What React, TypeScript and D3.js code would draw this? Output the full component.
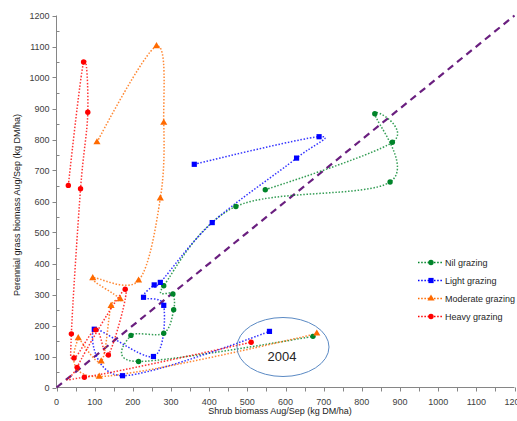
import React, { useEffect, useRef } from 'react'
import * as d3 from 'd3'

// shrub biomass (x) and perennial grass biomass (y), in year order, 2004 is the last point
const nilShrub = [547, 880, 834, 874, 470, 281, 305, 307, 281, 195, 215, 672]
const nilGrass = [638, 791, 883, 663, 584, 328, 302, 251, 175, 168, 84, 165]

const lightShrub = [361, 688, 629, 408, 272, 256, 228, 281, 254, 99, 173, 558]
const lightGrass = [720, 809, 740, 532, 339, 331, 291, 265, 100, 188, 38, 181]

const moderateShrub = [106, 262, 281, 272, 215, 95, 167, 143, 117, 57, 112, 682]
const moderateGrass = [791, 1101, 854, 610, 345, 353, 285, 263, 84, 159, 35, 174]

const heavyShrub = [31, 71, 82, 63, 39, 46, 103, 136, 180, 54, 73, 510]
const heavyGrass = [652, 1050, 888, 641, 173, 95, 186, 105, 317, 65, 33, 146]

const seriesNames = ['Nil grazing', 'Light grazing', 'Moderate grazing', 'Heavy grazing']
const xTicks = [0, 100, 200, 300, 400, 500, 600, 700, 800, 900, 1000, 1100, 1200]
const yTicks = [0, 100, 200, 300, 400, 500, 600, 700, 800, 900, 1000, 1100, 1200]

const W = 517, H = 421
const FONT = 'Liberation Sans, Arial, sans-serif'

function App() {
    const ref = useRef<SVGSVGElement>(null)

    useEffect(() => {
        const svg = d3.select(ref.current)
        svg.selectAll('*').remove()

        const x = d3.scaleLinear().domain([0, 1200]).range([56.5, 514.5])
        const y = d3.scaleLinear().domain([0, 1200]).range([387.5, 15.5])

        const series = [
            { name: seriesNames[0], xs: nilShrub, ys: nilGrass, color: '#00842a', shape: 'circle' },
            { name: seriesNames[1], xs: lightShrub, ys: lightGrass, color: '#0000ff', shape: 'square' },
            { name: seriesNames[2], xs: moderateShrub, ys: moderateGrass, color: '#ff6a00', shape: 'triangle' },
            { name: seriesNames[3], xs: heavyShrub, ys: heavyGrass, color: '#ff0000', shape: 'circle' },
        ]

        // axes
        const g = svg.append('g')
        g.append('line').attr('x1', x(0)).attr('x2', x(0)).attr('y1', y(0)).attr('y2', y(1200))
            .attr('stroke', '#868686').attr('stroke-width', 1)
        g.append('line').attr('x1', x(0)).attr('x2', x(1200)).attr('y1', y(0)).attr('y2', y(0))
            .attr('stroke', '#868686').attr('stroke-width', 1)

        const halfSteps = d3.range(0, 1201, 50)
        g.selectAll('.xt').data(halfSteps).join('line').attr('class', 'xt')
            .attr('x1', d => Math.round(x(d)) + 0.5).attr('x2', d => Math.round(x(d)) + 0.5)
            .attr('y1', y(0)).attr('y2', y(0) + 4)
            .attr('stroke', '#868686')
        g.selectAll('.yt').data(yTicks).join('line').attr('class', 'yt')
            .attr('x1', x(0) - 4).attr('x2', x(0))
            .attr('y1', d => Math.round(y(d)) + 0.5).attr('y2', d => Math.round(y(d)) + 0.5)
            .attr('stroke', '#868686')
        g.selectAll('.ym').data(halfSteps.filter(d => d % 100 !== 0)).join('line').attr('class', 'ym')
            .attr('x1', x(0)).attr('x2', x(0) + 3)
            .attr('y1', d => Math.round(y(d)) + 0.5).attr('y2', d => Math.round(y(d)) + 0.5)
            .attr('stroke', '#868686')

        g.selectAll('.xl').data(xTicks).join('text').attr('class', 'xl')
            .attr('x', d => x(d)).attr('y', y(0) + 17)
            .attr('text-anchor', 'middle')
            .attr('font-family', FONT).attr('font-size', 9).attr('fill', '#404040')
            .text(d => d)
        g.selectAll('.yl').data(yTicks).join('text').attr('class', 'yl')
            .attr('x', x(0) - 7).attr('y', d => y(d) + 3.2)
            .attr('text-anchor', 'end')
            .attr('font-family', FONT).attr('font-size', 9).attr('fill', '#404040')
            .text(d => d)

        g.append('text').attr('x', 280).attr('y', 414).attr('text-anchor', 'middle')
            .attr('font-family', FONT).attr('font-size', 9).attr('fill', '#1a1a1a')
            .text('Shrub biomass Aug/Sep (kg DM/ha)')
        g.append('text').attr('transform', 'translate(20,205) rotate(-90)').attr('text-anchor', 'middle')
            .attr('font-family', FONT).attr('font-size', 9).attr('fill', '#1a1a1a')
            .text('Perennial grass biomass Aug/Sep (kg DM/ha)')

        // 1:1 line
        svg.append('line').attr('x1', x(0)).attr('y1', y(0)).attr('x2', x(1200)).attr('y2', y(1200))
            .attr('stroke', '#6a1f7f').attr('stroke-width', 2.2).attr('stroke-dasharray', '7,5')

        const drawMarker = (sel: any, shape: string, color: string, cx: number, cy: number) => {
            if (shape === 'square') {
                sel.append('rect').attr('x', cx - 2.6).attr('y', cy - 2.6).attr('width', 5.2).attr('height', 5.2).attr('fill', color)
            } else if (shape === 'triangle') {
                sel.append('path').attr('d', d3.symbol(d3.symbolTriangle, 22)()).attr('transform', `translate(${cx},${cy})`).attr('fill', color)
            } else {
                sel.append('circle').attr('cx', cx).attr('cy', cy).attr('r', 2.7).attr('fill', color)
            }
        }

        const line = d3.line().curve(d3.curveCardinal.tension(0))

        series.forEach(s => {
            const pts: [number, number][] = s.xs.map((v, i) => [x(v), y(s.ys[i])])
            svg.append('path').attr('d', line(pts)).attr('fill', 'none')
                .attr('stroke', s.color).attr('stroke-width', 1.5)
                .attr('stroke-dasharray', '1.5,1.7').attr('opacity', 0.8)
        })
        series.forEach(s => {
            const mg = svg.append('g')
            s.xs.forEach((v, i) => drawMarker(mg, s.shape, s.color, x(v), y(s.ys[i])))
        })

        // 2004 ellipse
        svg.append('ellipse').attr('cx', 283).attr('cy', 347).attr('rx', 46).attr('ry', 29.5)
            .attr('fill', 'none').attr('stroke', '#5b8ac4').attr('stroke-width', 1)
        svg.append('text').attr('x', 282).attr('y', 361).attr('text-anchor', 'middle')
            .attr('font-family', FONT).attr('font-size', 13).attr('fill', '#262626').text('2004')

        // legend
        const lg = svg.append('g')
        series.forEach((s, i) => {
            const ly = 262.5 + i * 18
            lg.append('line').attr('x1', 418).attr('x2', 443).attr('y1', ly).attr('y2', ly)
                .attr('stroke', s.color).attr('stroke-width', 1.5).attr('stroke-dasharray', '1.5,1.7')
            drawMarker(lg, s.shape, s.color, 431, ly)
            lg.append('text').attr('x', 445).attr('y', ly + 3.2)
                .attr('font-family', FONT).attr('font-size', 9).attr('fill', '#262626').text(s.name)
        })
    }, [])

    return (
        <svg ref={ref} width={W} height={H} style={{ position: 'absolute', left: 0, top: 0, background: '#fff' }} />
    )
}

export default App
